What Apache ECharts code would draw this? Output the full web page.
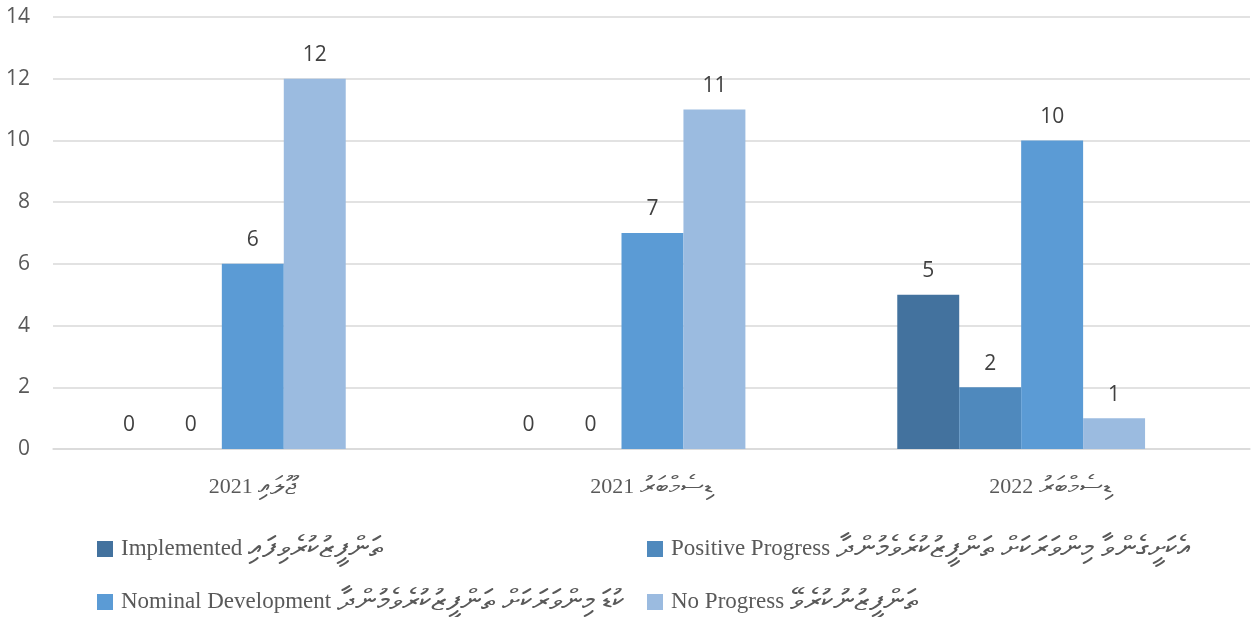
<!DOCTYPE html>
<html>
<head>
<meta charset="utf-8">
<script src="https://cdn.jsdelivr.net/npm/echarts@6/dist/echarts.min.js"></script>
<style>
html,body{margin:0;padding:0;background:#fff;}
#chart{width:1256px;height:617px;}
</style>
</head>
<body>
<div id="chart"></div>
<script>
const categories = ["ޖޫލައި 2021", "ޑިސެމްބަރު 2021", "ޑިސެމްބަރު 2022"];
const seriesNames = [
  "Implemented ތަންފީޒުކުރެވިފައި",
  "Positive Progress އެކަށީގެންވާ މިންވަރަކަށް ތަންފީޒުކުރެވެމުންދާ",
  "Nominal Development ކުޑަ މިންވަރަކަށް ތަންފީޒުކުރެވެމުންދާ",
  "No Progress ތަންފީޒުނުކުރެވޭ"
];
const implemented = [0, 0, 5];
const positiveProgress = [0, 0, 2];
const nominalDevelopment = [6, 7, 10];
const noProgress = [12, 11, 1];
const yTicks = [0, 2, 4, 6, 8, 10, 12, 14];

const colors = ["#43729E", "#4F89BD", "#5B9BD5", "#9BBBE0"];
const values = [implemented, positiveProgress, nominalDevelopment, noProgress];

const chart = echarts.init(document.getElementById('chart'));
const serif = "'Liberation Serif', 'Times New Roman', serif";
const sans = "'Open Sans', 'Liberation Sans', sans-serif";

const legendPos = [
  {left: 97, top: 534},
  {left: 647, top: 534},
  {left: 97, top: 587},
  {left: 647, top: 587}
];

// split "English words ThaanaWords" at the first Thaana character
function splitScript(s) {
  const idx = s.search(/[\u0780-\u07BF]/);
  if (idx < 0) return [s, ''];
  return [s.slice(0, idx).trim(), s.slice(idx).trim()];
}

const option = {
  animation: false,
  backgroundColor: '#ffffff',
  color: colors,
  grid: [
    {left: 53, right: 6, top: 17, bottom: 617 - 449},
    {left: 22, right: 35, top: 17, bottom: 617 - 449}
  ],
  legend: seriesNames.map((n, i) => ({
    data: [n],
    left: legendPos[i].left,
    top: legendPos[i].top,
    icon: 'rect',
    itemWidth: 16,
    itemHeight: 16,
    itemGap: 8,
    padding: 0,
    formatter: name => {
      const [en, dv] = splitScript(name);
      return '{en|' + en + ' }{dv|' + dv + '}';
    },
    textStyle: {
      fontFamily: serif, fontSize: 23, color: '#595959', padding: [0, 0, 0, 3],
      rich: {
        en: {fontFamily: serif, fontSize: 23, color: '#595959', lineHeight: 26},
        dv: {fontFamily: serif, fontSize: 30, color: '#595959', lineHeight: 26}
      }
    }
  })),
  xAxis: [
    {
      type: 'category', gridIndex: 0, data: categories,
      axisLine: {show: true, lineStyle: {color: '#D9D9D9', width: 1.5}},
      axisTick: {show: false},
      axisLabel: {
        margin: 25,
        formatter: v => {
          const parts = v.split(' ');
          return '{n|' + parts[1] + ' }{dv|' + parts[0] + '}';
        },
        rich: {
          n: {fontFamily: serif, fontSize: 22, color: '#595959'},
          dv: {fontFamily: serif, fontSize: 26, color: '#595959'}
        }
      }
    },
    {
      type: 'category', gridIndex: 1, data: categories,
      axisLine: {show: false}, axisTick: {show: false}, axisLabel: {show: false}
    }
  ],
  yAxis: [
    {
      type: 'value', gridIndex: 0, min: yTicks[0], max: yTicks[yTicks.length - 1], interval: 2,
      axisLine: {show: false}, axisTick: {show: false},
      splitLine: {lineStyle: {color: '#D9D9D9', width: 1.5}},
      axisLabel: {fontFamily: sans, fontSize: 21, color: '#595959', margin: 23}
    },
    {
      type: 'value', gridIndex: 1, min: yTicks[0], max: yTicks[yTicks.length - 1], interval: 2,
      show: false
    }
  ],
  series: seriesNames.map((n, i) => ({
    name: n,
    type: 'bar',
    xAxisIndex: 1,
    yAxisIndex: 1,
    data: values[i],
    barGap: '0%',
    barCategoryGap: '38%',
    itemStyle: {color: colors[i]},
    label: {
      show: true, position: 'top', distance: 13,
      fontFamily: sans, fontSize: 21, color: '#404040'
    }
  }))
};
chart.setOption(option);
</script>
</body>
</html>
